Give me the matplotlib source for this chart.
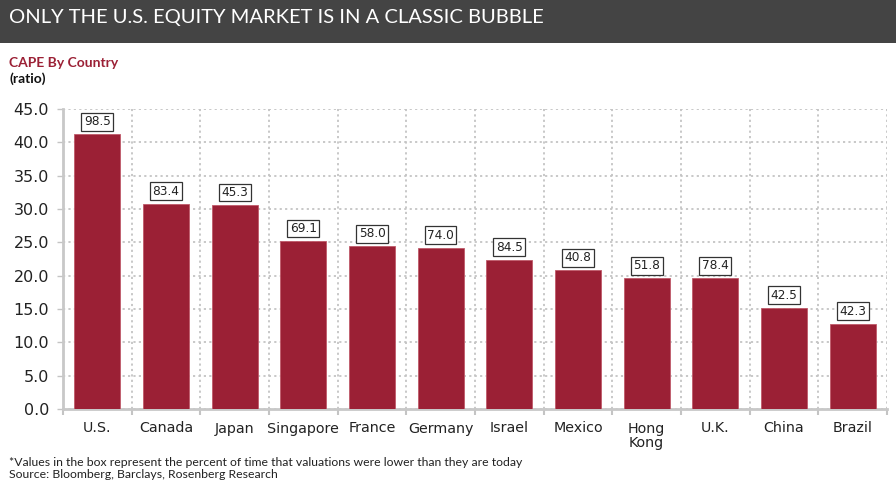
import matplotlib
matplotlib.use("Agg")
import matplotlib.pyplot as plt
import numpy as np

countries = ["U.S.", "Canada", "Japan", "Singapore", "France", "Germany",
             "Israel", "Mexico", "Hong\nKong", "U.K.", "China", "Brazil"]
cape = [41.2, 30.8, 30.6, 25.2, 24.4, 24.2, 22.4, 20.8, 19.6, 19.6, 15.2, 12.8]
pct_lower = ["98.5", "83.4", "45.3", "69.1", "58.0", "74.0",
             "84.5", "40.8", "51.8", "78.4", "42.5", "42.3"]
yticks = [0, 5, 10, 15, 20, 25, 30, 35, 40, 45]

title = "ONLY THE U.S. EQUITY MARKET IS IN A CLASSIC BUBBLE"
subtitle = "CAPE By Country"
unit = "(ratio)"
foot1 = "*Values in the box represent the percent of time that valuations were lower than they are today"
foot2 = "Source: Bloomberg, Barclays, Rosenberg Research"

bar_color = "#9b2035"
grid_color = "#c4c4c4"

fig = plt.figure(figsize=(8.96, 4.83), dpi=100)
fig.patch.set_facecolor("white")

# title band
fig.patches.append(plt.Rectangle((0, 1 - 43 / 483), 1, 43 / 483, transform=fig.transFigure,
                                 facecolor="#444444", edgecolor="none", zorder=0))
fig.text(9 / 896, 1 - 17 / 483, title, color="white", fontsize=14.5, family="Lato",
         va="center", ha="left")
fig.text(9 / 896, 1 - 63 / 483, subtitle, color=bar_color, fontsize=10, family="Lato",
         fontweight="bold", va="center", ha="left")
fig.text(9 / 896, 1 - 79 / 483, unit, color="#111111", fontsize=10, family="Lato",
         fontweight="bold", va="center", ha="left")
fig.text(9 / 896, 1 - 462 / 483, foot1, color="#222222", fontsize=8.8, family="Lato",
         va="center", ha="left")
fig.text(9 / 896, 1 - 475 / 483, foot2, color="#222222", fontsize=8.8, family="Lato",
         va="center", ha="left")

ax = fig.add_axes([63 / 896, 1 - 409 / 483, (887 - 63) / 896, 300 / 483])
x = np.arange(len(countries))
ax.bar(x, cape, width=0.67, color=bar_color, edgecolor="#c05a6a", linewidth=0.6, zorder=3)

for xi, v, lab in zip(x, cape, pct_lower):
    ax.annotate(lab, xy=(xi, v), xytext=(0, 9), textcoords="offset points",
                ha="center", va="center", fontsize=8.7, family="DejaVu Sans",
                color="#222222", zorder=5,
                bbox=dict(boxstyle="square,pad=0.2", facecolor="white",
                          edgecolor="#333333", linewidth=0.9))

ax.set_xlim(-0.5, len(countries) - 0.5)
ax.set_ylim(0, 45)
ax.set_yticks(yticks)
ax.set_yticklabels([f"{t:.1f}" for t in yticks], fontsize=11.5, family="DejaVu Sans",
                   color="#222222", fontweight="medium")
ax.set_xticks(x)
ax.set_xticklabels(countries, fontsize=10.3, family="DejaVu Sans", color="#222222",
                   linespacing=1.0)
ax.set_xticks(np.arange(-0.5, len(countries), 1.0), minor=True)

ax.tick_params(axis="x", which="major", length=0, pad=9)
ax.tick_params(axis="x", which="minor", length=4, color=grid_color, width=1.5)
ax.tick_params(axis="y", which="major", length=4, color=grid_color, width=1, pad=6)

ax.grid(axis="y", which="major", color=grid_color, linestyle=(0, (1.2, 1.8)), linewidth=1.3, zorder=0)
ax.grid(axis="x", which="minor", color=grid_color, linestyle=(0, (1.2, 1.8)), linewidth=1.3, zorder=0)
ax.set_axisbelow(True)

for s in ["top", "right"]:
    ax.spines[s].set_visible(False)
ax.spines["left"].set_color("#c8c8c8")
ax.spines["left"].set_linewidth(2)
ax.spines["bottom"].set_color("#c8c8c8")
ax.spines["bottom"].set_linewidth(2)

fig.savefig("out.png", dpi=100)
